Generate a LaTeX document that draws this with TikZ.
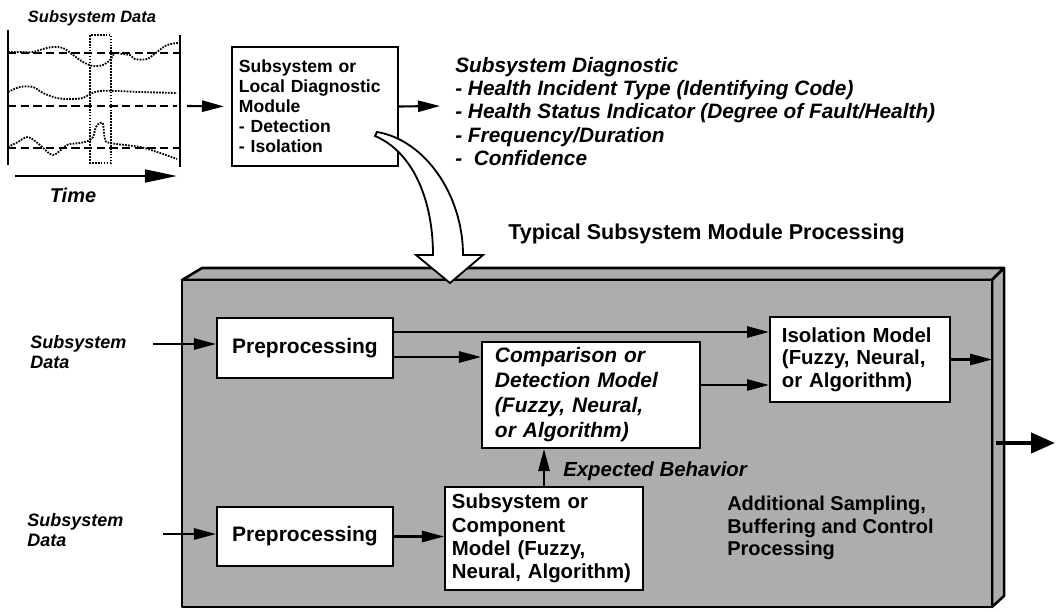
\documentclass[tikz,border=0pt]{standalone}
\usepackage{fontspec}
\setmainfont{Liberation Sans}
\usetikzlibrary{arrows.meta}
\newcommand{\fsz}[2]{\fontsize{#1}{#2}\selectfont}
\definecolor{halftone}{gray}{0.68}
\begin{document}
\begin{tikzpicture}[x=0.025cm,y=-0.025cm,
  box/.style={draw, line width=1.4pt, fill=white, inner ysep=0pt},
  arr/.style={line width=1.5pt, -{Triangle[length=0.55cm,width=0.28cm]}},
  bigarr/.style={line width=3pt, -{Triangle[length=0.6cm,width=0.5cm]}},
  lbl/.style={font=\bfseries\itshape\fsz{12.8pt}{14.2pt}, align=left, anchor=west, inner sep=0pt},
  sig/.style={line width=1.3pt, dash pattern=on 1.2pt off 0.9pt, smooth, tension=0.55},
  grid/.style={line width=1.3pt, dash pattern=on 6pt off 3pt},
  facet/.style={fill=halftone, draw, line width=1.8pt, line join=round}
]
\useasboundingbox (0,0) rectangle (1056,611);

% ---- signal traces ----
\draw[line width=1.5pt] (8,30) -- (8,165);
\draw[line width=1.5pt] (180,35) -- (180,167);
\draw[grid] (8,53) -- (180,53);
\draw[grid] (8,106) -- (177,106);
\draw[grid] (8,148) -- (180,148);
\draw[sig] plot coordinates {(8,52) (20,52) (33,52) (43,49) (53,47) (63,48) (73,55) (83,62) (93,66) (103,65) (110,60) (115,53) (122,54) (130,55) (135,59) (147,59) (157,52) (167,45) (178,43)};
\draw[sig] plot coordinates {(8,92) (20,87) (33,87) (43,93) (57,98) (70,99) (83,98) (90,94) (100,91) (117,91) (140,92) (177,93)};
\draw[sig] plot coordinates {(8,147) (18,142) (28,137) (40,145) (53,155) (67,145) (80,143) (88,141) (93,137) (96,127) (100,123) (103,124) (105,139) (110,143) (140,147) (157,152) (177,159)};
\draw[line width=1.1pt, dash pattern=on 1.2pt off 0.9pt] (90,35) rectangle (111,163);
\node[font=\bfseries\itshape\fsz{11.7pt}{13pt}, inner sep=0pt] (sdtop) at (92,18) {Subsystem Data};
\coordinate (t0) at (15,176);
\coordinate (t1) at (177,176);
\draw[line width=1.6pt, -{Triangle[length=0.8cm,width=0.32cm]}] (t0) -- (t1);
\node[font=\bfseries\itshape\fsz{14.2pt}{16pt}, inner sep=0pt] (time) at (73,195) {Time};

% ---- local diagnostic module ----
\node[box, inner xsep=0.175cm, text width=3.8cm, minimum height=2.975cm, align=left,
      font=\bfseries\fsz{12.5pt}{14.2pt}] (lm) at (315,106.5)
  {Subsystem or\\Local Diagnostic\\Module\\- Detection\\- Isolation};
\coordinate (sd) at (187,106);
\draw[arr, shorten >=0.175cm] (sd) -- (lm.west);
\node[font=\bfseries\itshape\fsz{14.8pt}{16.6pt}, align=left, anchor=west, inner sep=0pt] (diag) at (455,111.5)
  {Subsystem Diagnostic\\
   - Health Incident Type (Identifying Code)\\
   - Health Status Indicator (Degree of Fault/Health)\\
   - Frequency/Duration\\
   -\ \ Confidence};
\coordinate (dg) at (440,106);
\draw[arr] (lm.east) -- (dg);

\node[font=\bfseries\fsz{15.3pt}{17pt}, anchor=west, inner sep=0pt] (title) at (508,234)
  {Typical Subsystem Module Processing};

% ---- processing block (3-D slab) ----
\coordinate (ftl) at (182,280);
\coordinate (ftr) at (992,280);
\coordinate (fbr) at (992,607);
\coordinate (fbl) at (182,607);
\coordinate (btl) at (202,268);
\coordinate (btr) at (1004,268);
\coordinate (bbr) at (1004,596);
\draw[facet] (ftl) -- (btl) -- (btr) -- (ftr) -- cycle;
\draw[facet] (ftr) -- (btr) -- (bbr) -- (fbr) -- cycle;
\draw[facet] (ftl) rectangle (fbr);

% ---- hollow curved arrow into the block ----
\draw[fill=white, line width=1.3pt, line join=miter]
  (377,132) .. controls (425,140) and (463,195) .. (463,255)
  -- (483,255) -- (450,283) -- (416,255) -- (433,255)
  .. controls (433,200) and (413,152) .. (375,136) -- cycle;

% ---- inner modules ----
\node[box, minimum width=4.4cm, minimum height=1.5cm, font=\bfseries\fsz{14.9pt}{17pt}] (prep1) at (305,348) {Preprocessing};
\node[box, minimum width=4.4cm, minimum height=1.475cm, font=\bfseries\fsz{14.9pt}{17pt}] (prep2) at (305,536.5) {Preprocessing};
\node[box, inner xsep=0.325cm, text width=4.8cm, minimum height=2.65cm, align=left,
      font=\bfseries\itshape\fsz{14.9pt}{17.8pt}] (comp) at (591,395)
  {Comparison or\\Detection Model\\(Fuzzy, Neural,\\or Algorithm)};
\node[box, inner xsep=0.3cm, text width=3.9cm, minimum height=2.125cm, align=left,
      font=\bfseries\fsz{14.5pt}{16pt}] (iso) at (860,359.5)
  {Isolation Model\\(Fuzzy, Neural,\\or Algorithm)};
\node[box, inner xsep=0.175cm, text width=4.6cm, minimum height=2.575cm, align=left,
      font=\bfseries\fsz{14.5pt}{16.6pt}] (model) at (544,538.5)
  {Subsystem or\\Component\\Model (Fuzzy,\\Neural, Algorithm)};

\node[lbl] (sd1) at (30,352) {Subsystem\\Data};
\node[lbl] (sd2) at (27,530) {Subsystem\\Data};
\coordinate (a1) at (153,344);
\coordinate (a2) at (163,534);
\draw[arr] (a1) -- (a1 -| prep1.west);
\draw[arr] (a2) -- (a2 -| prep2.west);

\coordinate (p1a) at ([yshift=0.4cm]prep1.east);
\coordinate (p1b) at ([yshift=-0.225cm]prep1.east);
\draw[arr] (p1a) -- (p1a -| iso.west);
\draw[arr] (p1b) -- (p1b -| comp.west);
\coordinate (cb) at ([yshift=0.25cm]comp.east);
\draw[arr] (cb) -- (cb -| iso.west);
\draw[arr] (iso.east) -- (iso.east -| ftr);
\draw[arr] (prep2.east) -- (prep2.east -| model.west);
\draw[arr] (model.north) -- (model.north |- comp.south);

\node[font=\bfseries\itshape\fsz{14.5pt}{16pt}, anchor=west, inner sep=0pt] (eb) at (563,471) {Expected Behavior};
\node[font=\bfseries\fsz{14.2pt}{16.2pt}, align=left, anchor=west, inner sep=0pt] (add) at (727,528)
  {Additional Sampling,\\Buffering and Control\\Processing};

% ---- output ----
\coordinate (o1) at (996,443);
\coordinate (o2) at (1055,443);
\draw[bigarr] (o1) -- (o2);
\end{tikzpicture}
\end{document}
